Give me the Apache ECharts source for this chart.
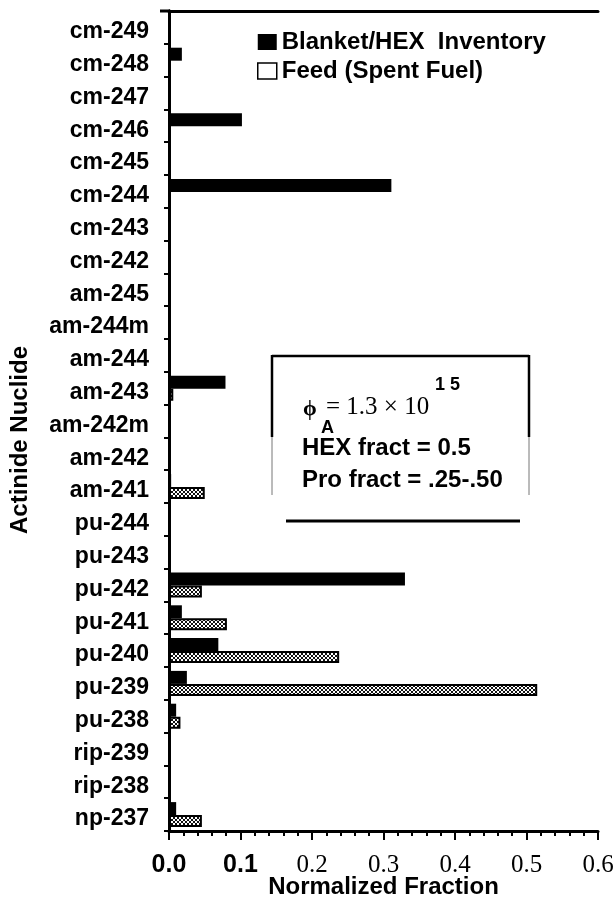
<!DOCTYPE html>
<html>
<head>
<meta charset="utf-8">
<script src="https://cdn.jsdelivr.net/npm/echarts@6/dist/echarts.min.js"></script>
<style>
html,body{margin:0;padding:0;background:#fff;}
#chart{width:616px;height:904px;}
</style>
</head>
<body>
<div id="chart"></div>
<script>
// ---- data ----
const categories = ['cm-249','cm-248','cm-247','cm-246','cm-245','cm-244','cm-243','cm-242',
  'am-245','am-244m','am-244','am-243','am-242m','am-242','am-241',
  'pu-244','pu-243','pu-242','pu-241','pu-240','pu-239','pu-238','rip-239','rip-238','np-237'];
const blanketValues = [0, 0.018, 0.002, 0.102, 0.002, 0.311, 0, 0.002,
  0, 0, 0, 0.079, 0, 0, 0.003,
  0, 0, 0.330, 0.018, 0.069, 0.025, 0.010, 0.002, 0.002, 0.010];
const feedValues = [0, 0, 0, 0, 0.001, 0.002, 0, 0,
  0, 0, 0, 0.006, 0, 0, 0.050,
  0, 0, 0.046, 0.081, 0.238, 0.515, 0.016, 0, 0, 0.046];
const xTickLabels = ['0.0','0.1','0.2','0.3','0.4','0.5','0.6'];
const seriesNames = ['Blanket/HEX  Inventory', 'Feed (Spent Fuel)'];

// ---- hatch pattern for feed bars ----
const pat = document.createElement('canvas');
pat.width = 4; pat.height = 4;
const pc = pat.getContext('2d');
pc.fillStyle = '#fff'; pc.fillRect(0,0,4,4);
pc.fillStyle = '#111';
[[0,0],[1,1],[2,2],[3,3],[3,0],[2,1],[1,2],[0,3]].forEach(p => pc.fillRect(p[0],p[1],1,1));

const chart = echarts.init(document.getElementById('chart'), null, {renderer:'canvas'});
const sans = 'Liberation Sans';
const serif = 'Liberation Serif';

const option = {
  backgroundColor: '#fff',
  animation: false,
  grid: {left: 169, right: 18, top: 11, bottom: 73, containLabel: false, outerBoundsMode: 'none'},
  legend: {
    orient: 'vertical', left: 252, top: 25, itemWidth: 19, itemHeight: 16, itemGap: 5,
    textStyle: {fontFamily: sans, fontWeight: 'bold', fontSize: 24, color: '#000'},
    data: [
      {name: seriesNames[0], icon: 'rect', itemStyle: {color: '#000'}},
      {name: seriesNames[1], icon: 'rect', itemStyle: {color: '#fff', borderColor: '#000', borderWidth: 1.5}}
    ]
  },
  xAxis: [{
    type: 'value', min: 0, max: 0.6, interval: 0.1,
    name: 'Normalized Fraction', nameLocation: 'middle', nameGap: 44, nameMoveOverlap: false,
    nameTextStyle: {fontFamily: sans, fontWeight: 'bold', fontSize: 24, color: '#000'},
    axisLine: {show: true, lineStyle: {color: '#000', width: 3}},
    axisTick: {show: true, length: 9, lineStyle: {color: '#000', width: 2}},
    minorTick: {show: true, splitNumber: 5, length: 5, lineStyle: {color: '#000', width: 2}},
    splitLine: {show: false},
    axisLabel: {
      margin: 22, color: '#000',
      formatter: (v) => {
        const i = Math.round(v * 10);
        const t = xTickLabels[i];
        return i < 2 ? '{b|' + t + '}' : '{s|' + t + '}';
      },
      rich: {
        b: {fontFamily: sans, fontWeight: 'bold', fontSize: 25, color: '#000'},
        s: {fontFamily: serif, fontSize: 25, color: '#000'}
      }
    }
  }, {
    type: 'value', min: 0, max: 0.6, position: 'top',
    axisLine: {show: true, lineStyle: {color: '#000', width: 3}},
    axisTick: {show: false}, axisLabel: {show: false}, splitLine: {show: false}
  }],
  yAxis: [{
    type: 'category', data: categories, inverse: true,
    name: 'Actinide Nuclide', nameLocation: 'middle', nameGap: 137, nameRotate: 90, nameMoveOverlap: false,
    nameTextStyle: {fontFamily: sans, fontWeight: 'bold', fontSize: 24, color: '#000', padding: [0, 38, 0, 0]},
    axisLine: {show: true, lineStyle: {color: '#000', width: 3}},
    axisTick: {show: true, length: 5, lineStyle: {color: '#000', width: 2}},
    axisLabel: {margin: 20, color: '#000', interval: 0,
      formatter: (v) => '{a|' + v + '}',
      rich: {a: {fontFamily: sans, fontWeight: 'bold', fontSize: 23, color: '#000', padding: [9, 0, 0, 0]}}},
    splitLine: {show: false}
  }, {
    type: 'category', data: categories, inverse: true, position: 'right',
    axisLine: {show: true, lineStyle: {color: '#000', width: 3}},
    axisTick: {show: false}, axisLabel: {show: false}, splitLine: {show: false}
  }],
  series: [{
    name: seriesNames[0], type: 'bar', data: blanketValues, barWidth: 13, barGap: '0%',
    itemStyle: {color: '#000'}
  }, {
    name: seriesNames[1], type: 'bar', data: feedValues, barWidth: 12, barGap: '0%',
    itemStyle: {color: {image: pat, repeat: 'repeat'}, borderColor: '#000', borderWidth: 2}
  }],
  graphic: [
    {type: 'line', shape: {x1: 160, y1: 11, x2: 170, y2: 11}, style: {stroke: '#000', lineWidth: 3}},
    {type: 'line', shape: {x1: 272, y1: 356, x2: 529, y2: 356}, style: {stroke: '#000', lineWidth: 2.5}},
    {type: 'line', shape: {x1: 272, y1: 355, x2: 272, y2: 437}, style: {stroke: '#000', lineWidth: 2.5}},
    {type: 'line', shape: {x1: 529, y1: 355, x2: 529, y2: 437}, style: {stroke: '#000', lineWidth: 2.5}},
    {type: 'line', shape: {x1: 272, y1: 437, x2: 272, y2: 495}, style: {stroke: '#777', lineWidth: 1}},
    {type: 'line', shape: {x1: 529, y1: 437, x2: 529, y2: 495}, style: {stroke: '#777', lineWidth: 1}},
    {type: 'line', shape: {x1: 286, y1: 521, x2: 520, y2: 521}, style: {stroke: '#000', lineWidth: 3}},
    {type: 'text', style: {text: 'ϕ', x: 303, y: 409, font: 'bold 22px "Liberation Serif"', fill: '#000', textVerticalAlign: 'middle'}},
    {type: 'text', style: {text: 'A', x: 321, y: 428, font: 'bold 18px "Liberation Sans"', fill: '#000', textVerticalAlign: 'middle'}},
    {type: 'text', style: {text: '= 1.3 × 10', x: 326, y: 407, font: '25px "Liberation Serif"', fill: '#000', textVerticalAlign: 'middle'}},
    {type: 'text', style: {text: '1 5', x: 435, y: 385, font: 'bold 18px "Liberation Sans"', fill: '#000', textVerticalAlign: 'middle'}},
    {type: 'text', style: {text: 'HEX fract = 0.5', x: 302, y: 448, font: 'bold 24px "Liberation Sans"', fill: '#000', textVerticalAlign: 'middle'}},
    {type: 'text', style: {text: 'Pro fract = .25-.50', x: 302, y: 480, font: 'bold 24px "Liberation Sans"', fill: '#000', textVerticalAlign: 'middle'}}
  ]
};
chart.setOption(option);
</script>
</body>
</html>
